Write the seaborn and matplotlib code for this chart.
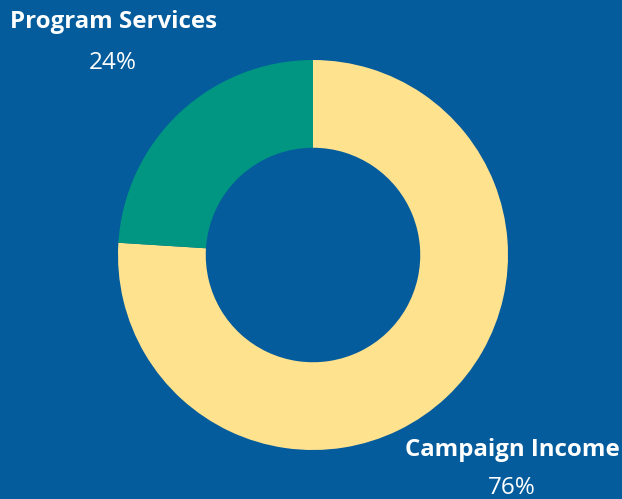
import matplotlib
matplotlib.use("Agg")
import matplotlib.pyplot as plt
import seaborn as sns

labels = ["Campaign Income", "Program Services"]
shares = [76, 24]
colors = ["#FFE28E", "#009682"]

bg = "#045C9C"

sns.set_theme(style="white")
plt.rcParams["font.family"] = ["Open Sans", "DejaVu Sans"]

W, H = 622, 499
fig = plt.figure(figsize=(W / 100, H / 100), dpi=100, facecolor=bg)
ax = fig.add_axes([118 / W, 49 / H, 390 / W, 390 / H])
ax.set_facecolor(bg)

ax.pie(shares, colors=colors, startangle=90, counterclock=False,
       radius=1, wedgeprops=dict(width=0.45, linewidth=0))
ax.set_xlim(-1, 1)
ax.set_ylim(-1, 1)
ax.set_aspect("equal")
ax.axis("off")

# label positions in pixels (x, y from top)
pos = {"Program Services": (113, 22, 63), "Campaign Income": (512, 450, 488)}
for name, val in zip(labels, shares):
    x, y1, y2 = pos[name]
    fig.text(x / W, 1 - y1 / H, name, color="white", fontsize=17.3,
             fontweight="bold", ha="center", va="center")
    fig.text(x / W, 1 - y2 / H, f"{val}%", color="white", fontsize=17.5,
             fontweight="normal", ha="center", va="center")

fig.savefig("out.png", dpi=100, facecolor=bg)
